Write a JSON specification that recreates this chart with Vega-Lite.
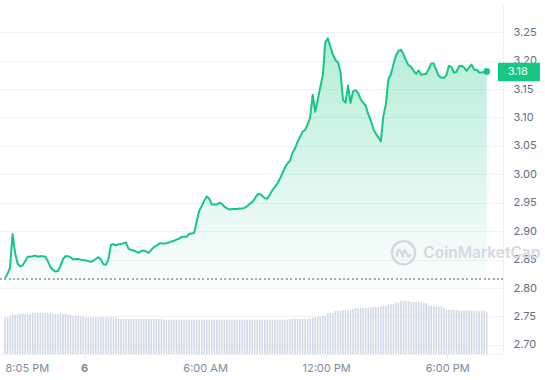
{
  "$schema": "https://vega.github.io/schema/vega-lite/v6.json",
  "width": 503,
  "height": 350,
  "autosize": "none",
  "padding": {"left": 0, "top": 4, "right": 42, "bottom": 26},
  "background": "white",
  "config": {
    "view": {"stroke": null},
    "font": "Inter",
    "axisY": {
      "tickCount": 12,
      "format": ".2f",
      "labelOverlap": false,
      "grid": true,
      "gridColor": "#eff2f5",
      "ticks": false,
      "tickSize": 0,
      "domain": true,
      "domainColor": "#eff2f5",
      "labelColor": "#616e85",
      "labelFontSize": 11,
      "labelPadding": 10,
      "titleOpacity": 0
    }
  },
  "data": {"values": [
    {"t":"2025-01-05T20:05:00","p":2.817,"v":724},{"t":"2025-01-05T20:12:30","p":2.825,"v":724},{"t":"2025-01-05T20:20:00","p":2.836,"v":743},{"t":"2025-01-05T20:27:30","p":2.895,"v":777},
    {"t":"2025-01-05T20:35:00","p":2.862,"v":777},{"t":"2025-01-05T20:42:30","p":2.843,"v":777},{"t":"2025-01-05T20:50:00","p":2.838,"v":797},{"t":"2025-01-05T20:57:30","p":2.840,"v":797},
    {"t":"2025-01-05T21:05:00","p":2.847,"v":797},{"t":"2025-01-05T21:12:30","p":2.855,"v":797},{"t":"2025-01-05T21:20:00","p":2.855,"v":797},{"t":"2025-01-05T21:27:30","p":2.856,"v":817},
    {"t":"2025-01-05T21:35:00","p":2.857,"v":817},{"t":"2025-01-05T21:42:30","p":2.855,"v":817},{"t":"2025-01-05T21:50:00","p":2.856,"v":817},{"t":"2025-01-05T21:57:30","p":2.856,"v":817},
    {"t":"2025-01-05T22:05:00","p":2.855,"v":817},{"t":"2025-01-05T22:12:30","p":2.847,"v":817},{"t":"2025-01-05T22:20:00","p":2.837,"v":817},{"t":"2025-01-05T22:27:30","p":2.832,"v":797},
    {"t":"2025-01-05T22:35:00","p":2.829,"v":797},{"t":"2025-01-05T22:42:30","p":2.830,"v":797},{"t":"2025-01-05T22:50:00","p":2.839,"v":797},{"t":"2025-01-05T22:57:30","p":2.851,"v":797},
    {"t":"2025-01-05T23:05:00","p":2.856,"v":797},{"t":"2025-01-05T23:12:30","p":2.856,"v":777},{"t":"2025-01-05T23:20:00","p":2.854,"v":777},{"t":"2025-01-05T23:27:30","p":2.850,"v":757},
    {"t":"2025-01-05T23:35:00","p":2.851,"v":757},{"t":"2025-01-05T23:42:30","p":2.851,"v":757},{"t":"2025-01-05T23:50:00","p":2.850,"v":737},{"t":"2025-01-05T23:57:30","p":2.849,"v":737},
    {"t":"2025-01-06T00:05:00","p":2.849,"v":724},{"t":"2025-01-06T00:12:30","p":2.847,"v":724},{"t":"2025-01-06T00:20:00","p":2.846,"v":724},{"t":"2025-01-06T00:27:30","p":2.848,"v":724},
    {"t":"2025-01-06T00:35:00","p":2.851,"v":724},{"t":"2025-01-06T00:42:30","p":2.854,"v":724},{"t":"2025-01-06T00:50:00","p":2.850,"v":724},{"t":"2025-01-06T00:57:30","p":2.842,"v":724},
    {"t":"2025-01-06T01:05:00","p":2.841,"v":724},{"t":"2025-01-06T01:12:30","p":2.850,"v":724},{"t":"2025-01-06T01:20:00","p":2.876,"v":724},{"t":"2025-01-06T01:27:30","p":2.877,"v":724},
    {"t":"2025-01-06T01:35:00","p":2.875,"v":724},{"t":"2025-01-06T01:42:30","p":2.877,"v":698},{"t":"2025-01-06T01:50:00","p":2.877,"v":698},{"t":"2025-01-06T01:57:30","p":2.879,"v":698},
    {"t":"2025-01-06T02:05:00","p":2.880,"v":698},{"t":"2025-01-06T02:12:30","p":2.869,"v":698},{"t":"2025-01-06T02:20:00","p":2.867,"v":698},{"t":"2025-01-06T02:27:30","p":2.866,"v":698},
    {"t":"2025-01-06T02:35:00","p":2.864,"v":698},{"t":"2025-01-06T02:42:30","p":2.862,"v":698},{"t":"2025-01-06T02:50:00","p":2.865,"v":698},{"t":"2025-01-06T02:57:30","p":2.866,"v":698},
    {"t":"2025-01-06T03:05:00","p":2.864,"v":698},{"t":"2025-01-06T03:12:30","p":2.862,"v":698},{"t":"2025-01-06T03:20:00","p":2.867,"v":698},{"t":"2025-01-06T03:27:30","p":2.872,"v":698},
    {"t":"2025-01-06T03:35:00","p":2.874,"v":698},{"t":"2025-01-06T03:42:30","p":2.878,"v":698},{"t":"2025-01-06T03:50:00","p":2.879,"v":698},{"t":"2025-01-06T03:57:30","p":2.878,"v":678},
    {"t":"2025-01-06T04:05:00","p":2.879,"v":678},{"t":"2025-01-06T04:12:30","p":2.880,"v":678},{"t":"2025-01-06T04:20:00","p":2.882,"v":678},{"t":"2025-01-06T04:27:30","p":2.883,"v":678},
    {"t":"2025-01-06T04:35:00","p":2.885,"v":678},{"t":"2025-01-06T04:42:30","p":2.887,"v":678},{"t":"2025-01-06T04:50:00","p":2.890,"v":678},{"t":"2025-01-06T04:57:30","p":2.890,"v":678},
    {"t":"2025-01-06T05:05:00","p":2.890,"v":678},{"t":"2025-01-06T05:12:30","p":2.895,"v":678},{"t":"2025-01-06T05:20:00","p":2.896,"v":678},{"t":"2025-01-06T05:27:30","p":2.897,"v":678},
    {"t":"2025-01-06T05:35:00","p":2.917,"v":678},{"t":"2025-01-06T05:42:30","p":2.936,"v":678},{"t":"2025-01-06T05:50:00","p":2.944,"v":678},{"t":"2025-01-06T05:57:30","p":2.954,"v":678},
    {"t":"2025-01-06T06:05:00","p":2.961,"v":678},{"t":"2025-01-06T06:12:30","p":2.957,"v":678},{"t":"2025-01-06T06:20:00","p":2.947,"v":678},{"t":"2025-01-06T06:27:30","p":2.947,"v":678},
    {"t":"2025-01-06T06:35:00","p":2.947,"v":678},{"t":"2025-01-06T06:42:30","p":2.950,"v":678},{"t":"2025-01-06T06:50:00","p":2.948,"v":678},{"t":"2025-01-06T06:57:30","p":2.943,"v":678},
    {"t":"2025-01-06T07:05:00","p":2.940,"v":678},{"t":"2025-01-06T07:12:30","p":2.938,"v":678},{"t":"2025-01-06T07:20:00","p":2.939,"v":678},{"t":"2025-01-06T07:27:30","p":2.939,"v":678},
    {"t":"2025-01-06T07:35:00","p":2.939,"v":678},{"t":"2025-01-06T07:42:30","p":2.940,"v":678},{"t":"2025-01-06T07:50:00","p":2.940,"v":678},{"t":"2025-01-06T07:57:30","p":2.941,"v":678},
    {"t":"2025-01-06T08:05:00","p":2.944,"v":678},{"t":"2025-01-06T08:12:30","p":2.948,"v":678},{"t":"2025-01-06T08:20:00","p":2.951,"v":678},{"t":"2025-01-06T08:27:30","p":2.957,"v":678},
    {"t":"2025-01-06T08:35:00","p":2.964,"v":678},{"t":"2025-01-06T08:42:30","p":2.966,"v":678},{"t":"2025-01-06T08:50:00","p":2.962,"v":678},{"t":"2025-01-06T08:57:30","p":2.958,"v":678},
    {"t":"2025-01-06T09:05:00","p":2.957,"v":678},{"t":"2025-01-06T09:12:30","p":2.964,"v":678},{"t":"2025-01-06T09:20:00","p":2.972,"v":678},{"t":"2025-01-06T09:27:30","p":2.978,"v":678},
    {"t":"2025-01-06T09:35:00","p":2.984,"v":678},{"t":"2025-01-06T09:42:30","p":2.992,"v":678},{"t":"2025-01-06T09:50:00","p":3.002,"v":678},{"t":"2025-01-06T09:57:30","p":3.012,"v":678},
    {"t":"2025-01-06T10:05:00","p":3.019,"v":678},{"t":"2025-01-06T10:12:30","p":3.024,"v":698},{"t":"2025-01-06T10:20:00","p":3.038,"v":698},{"t":"2025-01-06T10:27:30","p":3.046,"v":698},
    {"t":"2025-01-06T10:35:00","p":3.057,"v":698},{"t":"2025-01-06T10:42:30","p":3.066,"v":698},{"t":"2025-01-06T10:50:00","p":3.075,"v":698},{"t":"2025-01-06T10:57:30","p":3.078,"v":698},
    {"t":"2025-01-06T11:05:00","p":3.088,"v":698},{"t":"2025-01-06T11:12:30","p":3.100,"v":718},{"t":"2025-01-06T11:20:00","p":3.140,"v":718},{"t":"2025-01-06T11:27:30","p":3.110,"v":737},
    {"t":"2025-01-06T11:35:00","p":3.131,"v":737},{"t":"2025-01-06T11:42:30","p":3.153,"v":737},{"t":"2025-01-06T11:50:00","p":3.174,"v":763},{"t":"2025-01-06T11:57:30","p":3.232,"v":763},
    {"t":"2025-01-06T12:05:00","p":3.239,"v":811},{"t":"2025-01-06T12:12:30","p":3.224,"v":811},{"t":"2025-01-06T12:20:00","p":3.211,"v":811},{"t":"2025-01-06T12:27:30","p":3.201,"v":850},
    {"t":"2025-01-06T12:35:00","p":3.197,"v":850},{"t":"2025-01-06T12:42:30","p":3.181,"v":850},{"t":"2025-01-06T12:50:00","p":3.131,"v":870},{"t":"2025-01-06T12:57:30","p":3.126,"v":870},
    {"t":"2025-01-06T13:05:00","p":3.156,"v":870},{"t":"2025-01-06T13:12:30","p":3.126,"v":870},{"t":"2025-01-06T13:20:00","p":3.146,"v":890},{"t":"2025-01-06T13:27:30","p":3.148,"v":909},
    {"t":"2025-01-06T13:35:00","p":3.143,"v":909},{"t":"2025-01-06T13:42:30","p":3.132,"v":909},{"t":"2025-01-06T13:50:00","p":3.126,"v":909},{"t":"2025-01-06T13:57:30","p":3.121,"v":909},
    {"t":"2025-01-06T14:05:00","p":3.106,"v":909},{"t":"2025-01-06T14:12:30","p":3.095,"v":929},{"t":"2025-01-06T14:20:00","p":3.080,"v":929},{"t":"2025-01-06T14:27:30","p":3.072,"v":929},
    {"t":"2025-01-06T14:35:00","p":3.065,"v":929},{"t":"2025-01-06T14:42:30","p":3.058,"v":929},{"t":"2025-01-06T14:50:00","p":3.102,"v":955},{"t":"2025-01-06T14:57:30","p":3.123,"v":955},
    {"t":"2025-01-06T15:05:00","p":3.167,"v":981},{"t":"2025-01-06T15:12:30","p":3.176,"v":981},{"t":"2025-01-06T15:20:00","p":3.193,"v":981},{"t":"2025-01-06T15:27:30","p":3.209,"v":1020},
    {"t":"2025-01-06T15:35:00","p":3.217,"v":1020},{"t":"2025-01-06T15:42:30","p":3.219,"v":1048},{"t":"2025-01-06T15:50:00","p":3.211,"v":1048},{"t":"2025-01-06T15:57:30","p":3.200,"v":1048},
    {"t":"2025-01-06T16:05:00","p":3.192,"v":1048},{"t":"2025-01-06T16:12:30","p":3.189,"v":1028},{"t":"2025-01-06T16:20:00","p":3.182,"v":1028},{"t":"2025-01-06T16:27:30","p":3.177,"v":1028},
    {"t":"2025-01-06T16:35:00","p":3.183,"v":1028},{"t":"2025-01-06T16:42:30","p":3.175,"v":1028},{"t":"2025-01-06T16:50:00","p":3.176,"v":1008},{"t":"2025-01-06T16:57:30","p":3.177,"v":1008},
    {"t":"2025-01-06T17:05:00","p":3.185,"v":955},{"t":"2025-01-06T17:12:30","p":3.195,"v":955},{"t":"2025-01-06T17:20:00","p":3.195,"v":955},{"t":"2025-01-06T17:27:30","p":3.183,"v":955},
    {"t":"2025-01-06T17:35:00","p":3.173,"v":941},{"t":"2025-01-06T17:42:30","p":3.170,"v":941},{"t":"2025-01-06T17:50:00","p":3.170,"v":909},{"t":"2025-01-06T17:57:30","p":3.174,"v":876},
    {"t":"2025-01-06T18:05:00","p":3.191,"v":876},{"t":"2025-01-06T18:12:30","p":3.189,"v":876},{"t":"2025-01-06T18:20:00","p":3.179,"v":876},{"t":"2025-01-06T18:27:30","p":3.180,"v":876},
    {"t":"2025-01-06T18:35:00","p":3.190,"v":856},{"t":"2025-01-06T18:42:30","p":3.191,"v":856},{"t":"2025-01-06T18:50:00","p":3.188,"v":856},{"t":"2025-01-06T18:57:30","p":3.182,"v":856},
    {"t":"2025-01-06T19:05:00","p":3.188,"v":856},{"t":"2025-01-06T19:12:30","p":3.193,"v":856},{"t":"2025-01-06T19:20:00","p":3.184,"v":856},{"t":"2025-01-06T19:27:30","p":3.184,"v":856},
    {"t":"2025-01-06T19:35:00","p":3.179,"v":856},{"t":"2025-01-06T19:42:30","p":3.179,"v":856},{"t":"2025-01-06T19:50:00","p":3.180,"v":856},{"t":"2025-01-06T19:57:30","p":3.181,"v":830}
  ]},
  "layer": [
    {
      "mark": {"type": "bar", "size": 1.5, "color": "#cfd6e4"},
      "encoding": {
        "x": {"field": "t", "type": "temporal", "title": null,
          "scale": {"type": "time", "domain": [{"year": 2025, "month": 1, "date": 5, "hours": 20, "minutes": 5}, {"year": 2025, "month": 1, "date": 6, "hours": 20, "minutes": 31}]},
          "axis": {
            "values": [
              {"year": 2025, "month": 1, "date": 5, "hours": 20, "minutes": 5},
              {"year": 2025, "month": 1, "date": 6, "hours": 0},
              {"year": 2025, "month": 1, "date": 6, "hours": 6},
              {"year": 2025, "month": 1, "date": 6, "hours": 12},
              {"year": 2025, "month": 1, "date": 6, "hours": 18}
            ],
            "labelExpr": "hours(datum.value) == 0 ? timeFormat(datum.value, '%-d') : timeFormat(datum.value, '%-I:%M %p')",
            "labelOverlap": false,
            "labelAlign": {"condition": {"test": "hours(datum.value) == 20", "value": "left"}, "value": "center"},
            "labelFontWeight": {"condition": {"test": "hours(datum.value) == 0", "value": "bold"}, "value": "normal"},
            "tickOpacity": {"condition": {"test": "hours(datum.value) == 20", "value": 0}, "value": 1},
            "grid": false,
            "domainColor": "#eff2f5",
            "tickColor": "#e6e9ee",
            "tickSize": 4,
            "labelColor": "#808a9d",
            "labelFontSize": 11,
            "labelPadding": 4
          }
        },
        "y": {"field": "v", "type": "quantitative", "scale": {"domain": [0, 6920]}, "axis": null}
      }
    },
    {
      "layer": [
        {
          "mark": {"type": "area", "color": {"gradient": "linear", "x1": 0, "y1": 0, "x2": 0, "y2": 1, "stops": [{"offset": 0, "color": "rgba(22,199,132,0.32)"}, {"offset": 1, "color": "rgba(22,199,132,0.01)"}]}},
          "encoding": {
            "x": {"field": "t", "type": "temporal", "title": null},
            "y": {"field": "p", "type": "quantitative", "title": null, "scale": {"domain": [2.684, 3.2995], "nice": false, "zero": false}, "axis": {"orient": "right", "grid": true}},
            "y2": {"datum": 2.8}
          }
        },
        {
          "mark": {"type": "rule", "color": "#a3aab7", "strokeWidth": 1.2, "strokeDash": [1.2, 3.2]},
          "encoding": {"y": {"datum": 2.816, "type": "quantitative", "title": null, "axis": {"orient": "right", "grid": true}}}
        },
        {
          "mark": {"type": "line", "color": "#16c784", "strokeWidth": 2, "strokeJoin": "round"},
          "encoding": {
            "x": {"field": "t", "type": "temporal", "title": null},
            "y": {"field": "p", "type": "quantitative", "title": null, "axis": {"orient": "right", "grid": true}}
          }
        },
        {
          "data": {"values": [{"t": "2025-01-06T19:57:30", "p": 3.181}]},
          "mark": {"type": "point", "filled": true, "opacity": 1, "size": 45, "color": "#16c784"},
          "encoding": {
            "x": {"field": "t", "type": "temporal", "title": null},
            "y": {"field": "p", "type": "quantitative", "title": null, "axis": {"orient": "right", "grid": true}}
          }
        },
        {
          "data": {"values": [{"label": "CoinMarketCap"}]},
          "mark": {"type": "text", "color": "#d3d8e2", "fontSize": 15.5, "fontWeight": 600, "align": "left", "baseline": "middle"},
          "encoding": {
            "x": {"datum": {"year": 2025, "month": 1, "date": 6, "hours": 16, "minutes": 49}, "type": "temporal", "title": null},
            "y": {"datum": 2.861, "type": "quantitative", "title": null, "axis": {"orient": "right", "grid": true}},
            "text": {"field": "label"}
          }
        },
        {
          "data": {"values": [{"label": "logo"}]},
          "mark": {"type": "point", "shape": "circle", "filled": false, "size": 540, "stroke": "#d3d8e2", "strokeWidth": 2.4, "opacity": 1},
          "encoding": {
            "x": {"datum": {"year": 2025, "month": 1, "date": 6, "hours": 15, "minutes": 50}, "type": "temporal", "title": null},
            "y": {"datum": 2.862, "type": "quantitative", "title": null, "axis": {"orient": "right", "grid": true}}
          }
        },
        {
          "data": {"values": [{"label": "logo"}]},
          "mark": {"type": "point", "shape": "M-0.55,0.35 L-0.55,-0.05 Q-0.42,-0.42 -0.25,-0.1 L-0.08,0.25 Q0.06,-0.42 0.2,-0.1 L0.34,0.25 Q0.46,0.42 0.62,0.12", "filled": false, "size": 540, "stroke": "#d3d8e2", "strokeWidth": 2.4, "opacity": 1},
          "encoding": {
            "x": {"datum": {"year": 2025, "month": 1, "date": 6, "hours": 15, "minutes": 50}, "type": "temporal", "title": null},
            "y": {"datum": 2.862, "type": "quantitative", "title": null, "axis": {"orient": "right", "grid": true}}
          }
        },
        {
          "data": {"values": [{"p": 3.18}]},
          "mark": {"type": "rect", "color": "#16c784", "x2Offset": 42, "yOffset": -9.2, "y2Offset": 9.2, "cornerRadius": 1},
          "encoding": {
            "x": {"datum": {"year": 2025, "month": 1, "date": 6, "hours": 20, "minutes": 31}, "type": "temporal", "title": null},
            "x2": {"datum": {"year": 2025, "month": 1, "date": 6, "hours": 20, "minutes": 31}},
            "y": {"field": "p", "type": "quantitative", "title": null, "axis": {"orient": "right", "grid": true}},
            "y2": {"field": "p"}
          }
        },
        {
          "data": {"values": [{"p": 3.18}]},
          "mark": {"type": "text", "color": "white", "fontSize": 11, "align": "left", "baseline": "middle", "dx": 9.7},
          "encoding": {
            "x": {"datum": {"year": 2025, "month": 1, "date": 6, "hours": 20, "minutes": 31}, "type": "temporal", "title": null},
            "y": {"field": "p", "type": "quantitative", "title": null, "axis": {"orient": "right", "grid": true}},
            "text": {"field": "p", "type": "quantitative", "format": ".2f"}
          }
        }
      ]
    }
  ],
  "resolve": {"scale": {"y": "independent"}}
}
